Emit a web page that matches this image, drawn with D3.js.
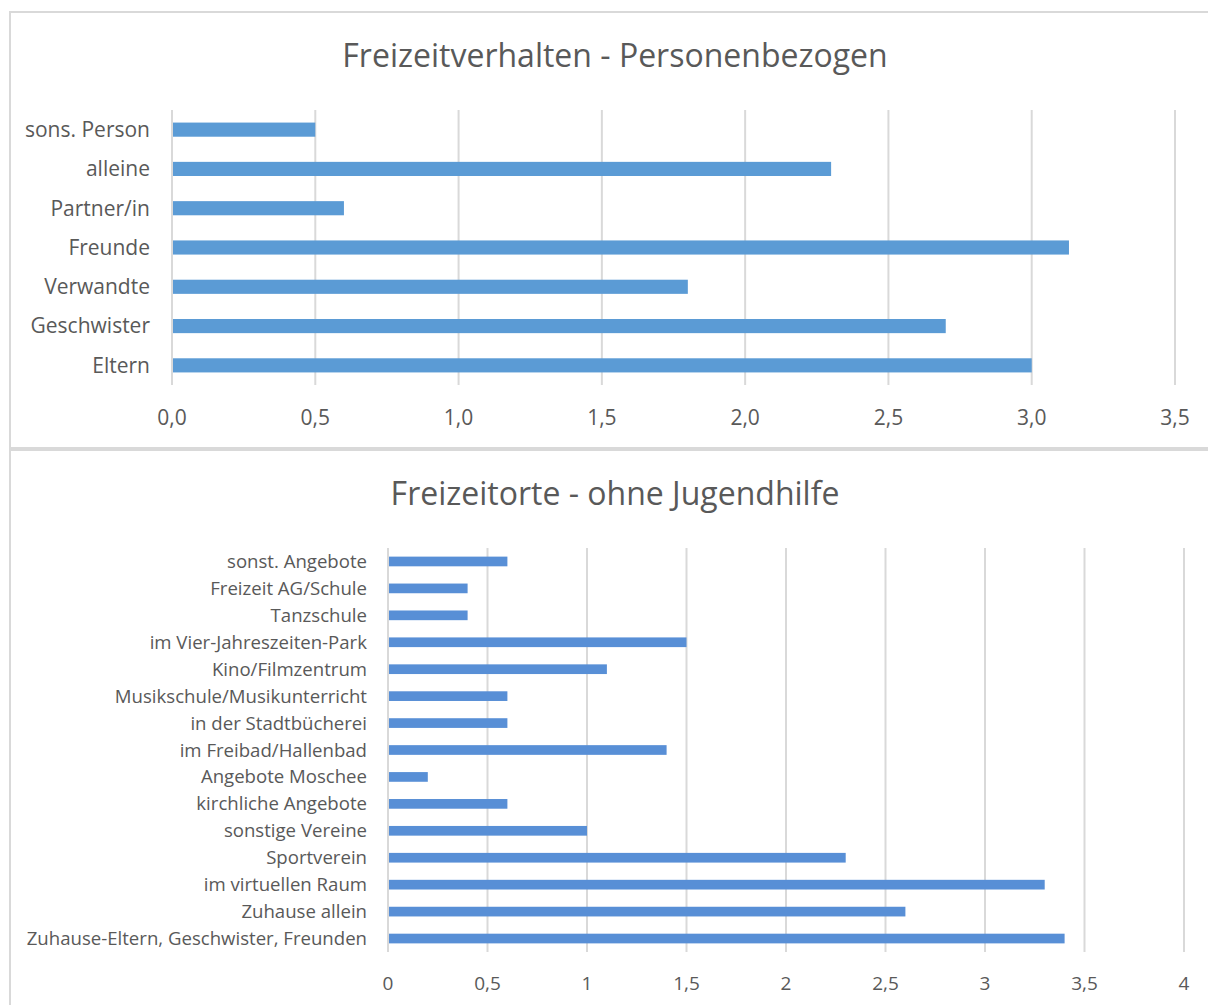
<!DOCTYPE html>
<html>
<head>
<meta charset="utf-8">
<script src="https://cdn.jsdelivr.net/npm/d3@7"></script>
<style>
  body { margin: 0; background: #fff; }
  svg text { font-family: "Open Sans", "Noto Sans", sans-serif; fill: #595959; }
</style>
</head>
<body>
<svg id="chart" width="1208" height="1005"></svg>
<script>
// top chart
const personLabels = ["Eltern", "Geschwister", "Verwandte", "Freunde", "Partner/in", "alleine", "sons. Person"];
const personValues = [3.0, 2.7, 1.8, 3.13, 0.6, 2.3, 0.5];
const personTicks = [0, 0.5, 1, 1.5, 2, 2.5, 3, 3.5];

// bottom chart
const placeLabels = ["Zuhause-Eltern, Geschwister, Freunden", "Zuhause allein", "im virtuellen Raum", "Sportverein",
  "sonstige Vereine", "kirchliche Angebote", "Angebote Moschee", "im Freibad/Hallenbad", "in der Stadtbücherei",
  "Musikschule/Musikunterricht", "Kino/Filmzentrum", "im Vier-Jahreszeiten-Park", "Tanzschule",
  "Freizeit AG/Schule", "sonst. Angebote"];
const placeValues = [3.4, 2.6, 3.3, 2.3, 1.0, 0.6, 0.2, 1.4, 0.6, 0.6, 1.1, 1.5, 0.4, 0.4, 0.6];
const placeTicks = [0, 0.5, 1, 1.5, 2, 2.5, 3, 3.5, 4];

const de = d3.formatLocale({ decimal: ",", thousands: ".", grouping: [3], currency: ["", " €"] });

const svg = d3.select("#chart");

function drawChart(cfg) {
  const g = svg.append("g");

  g.append("rect")
    .attr("x", cfg.box[0]).attr("y", cfg.box[1])
    .attr("width", cfg.box[2]).attr("height", cfg.box[3])
    .attr("fill", "#fff").attr("stroke", "#d9d9d9").attr("stroke-width", 2);

  g.append("text")
    .attr("x", cfg.titleX).attr("y", cfg.titleY)
    .attr("text-anchor", "middle")
    .style("font-size", cfg.titleSize + "px")
    .text(cfg.title);

  const x = d3.scaleLinear().domain([0, cfg.max]).range([cfg.x0, cfg.x1]);
  // first category at bottom
  const y = d3.scaleBand().domain(cfg.labels).range([cfg.y1, cfg.y0]).paddingInner(cfg.pad).paddingOuter(cfg.pad / 2);

  g.selectAll(".grid").data(cfg.ticks).join("line")
    .attr("x1", d => x(d)).attr("x2", d => x(d))
    .attr("y1", cfg.y0).attr("y2", cfg.y1)
    .attr("stroke", "#d9d9d9").attr("stroke-width", 2);

  g.selectAll(".bar").data(cfg.values).join("rect")
    .attr("x", x(0) + 1)
    .attr("y", (d, i) => y(cfg.labels[i]))
    .attr("width", d => x(d) - x(0) - 1)
    .attr("height", y.bandwidth())
    .attr("fill", cfg.color);

  g.selectAll(".cat").data(cfg.labels).join("text")
    .attr("x", cfg.labelX)
    .attr("y", d => y(d) + y.bandwidth() / 2)
    .attr("dy", "0.35em")
    .attr("text-anchor", "end")
    .style("font-size", cfg.labelSize + "px")
    .text(d => d);

  g.selectAll(".tick").data(cfg.ticks).join("text")
    .attr("x", d => x(d))
    .attr("y", cfg.tickY)
    .attr("dy", "0.35em")
    .attr("text-anchor", "middle")
    .style("font-size", cfg.tickSize + "px")
    .text(d => cfg.fmt(d));
}

drawChart({
  box: [10, 12, 1210, 436],
  title: "Freizeitverhalten - Personenbezogen",
  titleX: 615, titleY: 67, titleSize: 32,
  labels: personLabels, values: personValues, ticks: personTicks,
  max: 3.5, x0: 172, x1: 1175, y0: 110, y1: 385, pad: 0.64,
  labelX: 150, labelSize: 21, tickSize: 21, tickY: 418,
  fmt: de.format(".1f"), color: "#5b9bd5"
});

drawChart({
  box: [10, 450, 1210, 600],
  title: "Freizeitorte - ohne Jugendhilfe",
  titleX: 615, titleY: 505, titleSize: 32,
  labels: placeLabels, values: placeValues, ticks: placeTicks,
  max: 4, x0: 388, x1: 1184, y0: 548, y1: 952, pad: 0.64,
  labelX: 367, labelSize: 18.6, tickSize: 19, tickY: 983,
  fmt: de.format("~g"), color: "#588fd6"
});
</script>
</body>
</html>
